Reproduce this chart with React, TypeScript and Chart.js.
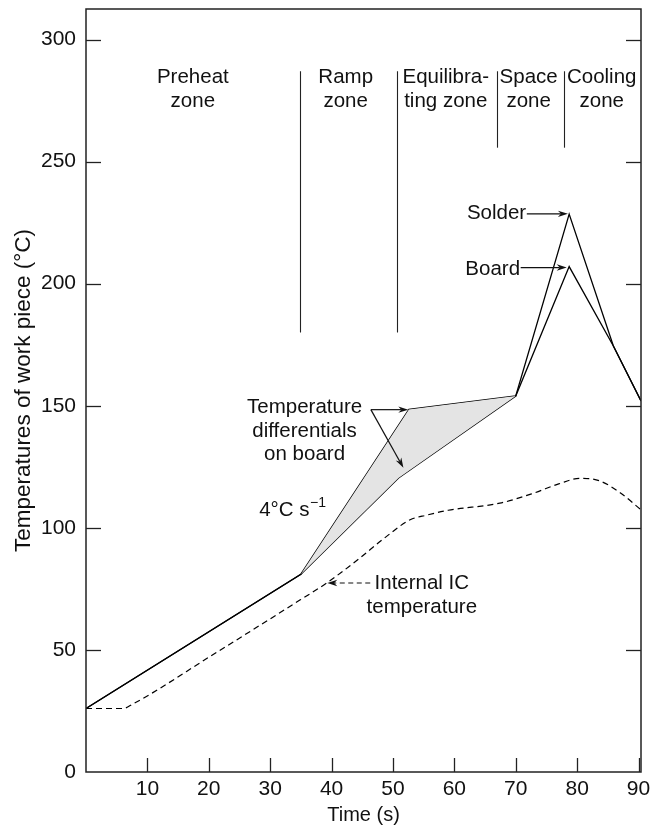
import React, { useEffect, useRef } from 'react';
import { Chart, registerables } from 'chart.js';

Chart.register(...registerables);

// ---- data ----
const SOLDER_X = [0, 35, 52.6, 70, 78.7, 85.9, 90.4];
const SOLDER_Y = [26, 81, 148.5, 154, 228.5, 174.5, 152];
const BOARD_X = [0, 35, 50.9, 70, 78.7, 85.9, 90.4];
const BOARD_Y = [26, 81, 120.4, 154, 207, 174.5, 152];
const IC_X = [0, 6, 7.6, 20.2, 34.9, 39.2, 44.4, 48.5, 52.8, 55.5, 59, 67.4, 72.9, 77, 80.5, 83.7, 87, 90.4];
const IC_Y = [26, 26, 27.8, 47.3, 70.5, 77.4, 87.2, 95.6, 103.3, 105.2, 107.2, 110.1, 114.2, 118, 120.3, 119.2, 114.4, 107.4];
const DIFF_RANGE = [35, 70];

const X_TICKS = [10, 20, 30, 40, 50, 60, 70, 80, 90];
const Y_TICKS = [0, 50, 100, 150, 200, 250, 300];

const ZONE_LINE_X = [34.9, 50.7, 66.9, 77.9];
const ZONE_LINE_TOP = [287, 287, 287, 287];
const ZONE_LINE_BOTTOM = [180, 180, 255.7, 255.7];
const ZONE_LABELS = [
  ['Preheat', 'zone'],
  ['Ramp', 'zone'],
  ['Equilibra-', 'ting zone'],
  ['Space', 'zone'],
  ['Cooling', 'zone'],
];
const ZONE_LABEL_X = [17.4, 42.3, 58.6, 72.1, 84];
const ZONE_LABEL_Y = [284.5, 274.8];

const FONT = '"Liberation Sans", Arial, Helvetica, sans-serif';
const INK = '#111';

const toPts = (xs: number[], ys: number[]) => xs.map((x, i) => ({ x, y: ys[i] }));
const inRange = (p: { x: number }) => p.x >= DIFF_RANGE[0] && p.x <= DIFF_RANGE[1];

function drawArrow(ctx: CanvasRenderingContext2D, x1: number, y1: number, x2: number, y2: number, dashed = false) {
  const ang = Math.atan2(y2 - y1, x2 - x1);
  const headLen = 10;
  const hw = 3.2;
  const bx = x2 - Math.cos(ang) * headLen * 0.7;
  const by = y2 - Math.sin(ang) * headLen * 0.7;
  ctx.save();
  ctx.strokeStyle = INK;
  ctx.fillStyle = INK;
  ctx.lineWidth = 1.2;
  ctx.setLineDash(dashed ? [5, 3.5] : []);
  ctx.beginPath();
  ctx.moveTo(x1, y1);
  ctx.lineTo(bx, by);
  ctx.stroke();
  ctx.setLineDash([]);
  const tx = x2 - Math.cos(ang) * headLen;
  const ty = y2 - Math.sin(ang) * headLen;
  const nx = -Math.sin(ang) * hw;
  const ny = Math.cos(ang) * hw;
  ctx.beginPath();
  ctx.moveTo(x2, y2);
  ctx.lineTo(tx + nx, ty + ny);
  ctx.lineTo(bx, by);
  ctx.lineTo(tx - nx, ty - ny);
  ctx.closePath();
  ctx.fill();
  ctx.restore();
}

const overlay = {
  id: 'overlay',
  afterDatasetsDraw(chart: any) {
    const { ctx, chartArea: a, scales } = chart;
    const px = (v: number) => scales.x.getPixelForValue(v);
    const py = (v: number) => scales.y.getPixelForValue(v);
    const line = (x1: number, y1: number, x2: number, y2: number) => {
      ctx.beginPath();
      ctx.moveTo(x1, y1);
      ctx.lineTo(x2, y2);
      ctx.stroke();
    };
    ctx.save();
    // frame
    ctx.strokeStyle = '#222';
    ctx.lineWidth = 1.5;
    ctx.strokeRect(a.left, a.top, a.right - a.left, a.bottom - a.top);
    // inward ticks
    ctx.lineWidth = 1.3;
    Y_TICKS.forEach((v) => {
      if (v === 0) return;
      const yy = Math.round(py(v)) + 0.5;
      line(a.left, yy, a.left + 15, yy);
      line(a.right - 15, yy, a.right, yy);
    });
    X_TICKS.forEach((v) => {
      const xx = Math.round(px(v)) + 0.5;
      line(xx, a.bottom, xx, a.bottom - 14);
    });
    // zone boundaries
    ctx.strokeStyle = '#222';
    ctx.lineWidth = 1.1;
    ZONE_LINE_X.forEach((v, i) => {
      const xx = Math.round(px(v)) + 0.5;
      line(xx, py(ZONE_LINE_TOP[i]), xx, py(ZONE_LINE_BOTTOM[i]));
    });
    // text
    ctx.fillStyle = INK;
    ctx.font = `20.5px ${FONT}`;
    ctx.textBaseline = 'middle';
    ctx.textAlign = 'center';
    ZONE_LABELS.forEach((lines, i) => {
      lines.forEach((t, j) => ctx.fillText(t, px(ZONE_LABEL_X[i]), py(ZONE_LABEL_Y[j])));
    });
    // Solder / Board
    ctx.textAlign = 'right';
    ctx.fillText('Solder', px(71.7), py(229));
    ctx.fillText('Board', px(70.7), py(206));
    drawArrow(ctx, px(71.8), py(228.6), px(78.5), py(228.6));
    drawArrow(ctx, px(70.8), py(206.6), px(78.3), py(206.6));
    // Temperature differentials
    ctx.textAlign = 'center';
    ctx.fillText('Temperature', px(35.6), py(149.3));
    ctx.fillText('differentials', px(35.6), py(139.5));
    ctx.fillText('on board', px(35.6), py(130));
    drawArrow(ctx, px(46.4), py(148.4), px(52.5), py(148.4));
    drawArrow(ctx, px(46.4), py(148.4), px(51.7), py(124.6));
    // 4°C s^-1
    ctx.textAlign = 'left';
    const sx = px(28.2);
    const sy = py(107);
    ctx.fillText('4°C s', sx, sy);
    const w = ctx.measureText('4°C s').width;
    ctx.font = `14px ${FONT}`;
    ctx.fillText('\u22121', sx + w + 0.5, sy - 8);
    ctx.font = `20.5px ${FONT}`;
    // Internal IC temperature
    ctx.textAlign = 'center';
    ctx.fillText('Internal IC', px(54.7), py(77.4));
    ctx.fillText('temperature', px(54.7), py(67.6));
    drawArrow(ctx, px(46.3), py(77.4), px(39.3), py(77.4), true);
    ctx.restore();
  },
};

export default function App() {
  const ref = useRef<HTMLCanvasElement | null>(null);
  useEffect(() => {
    if (!ref.current) return;
    const solder = toPts(SOLDER_X, SOLDER_Y);
    const board = toPts(BOARD_X, BOARD_Y);
    const ic = toPts(IC_X, IC_Y);
    const lineBase = { pointRadius: 0, borderColor: '#000', borderWidth: 1.3, fill: false, tension: 0 };
    const chart = new Chart(ref.current, {
      type: 'line',
      data: {
        datasets: [
          { ...lineBase, data: solder.filter(inRange), borderWidth: 0 },
          { ...lineBase, data: board.filter(inRange), borderWidth: 0, fill: '-1', backgroundColor: '#e4e4e4' },
          { ...lineBase, data: solder },
          { ...lineBase, data: board },
          { ...lineBase, data: ic, borderDash: [6, 4], borderWidth: 1.2, cubicInterpolationMode: 'monotone' },
        ] as any,
      },
      options: {
        responsive: false,
        animation: false,
        layout: { padding: { top: 9, right: 14, left: 0, bottom: 0 } },
        plugins: { legend: { display: false }, tooltip: { enabled: false } },
        scales: {
          x: {
            type: 'linear',
            min: 0,
            max: 90.4,
            afterBuildTicks: (s: any) => {
              s.ticks = X_TICKS.map((v) => ({ value: v }));
            },
            afterFit: (s: any) => {
              s.height = 55;
              s.paddingLeft = 0;
              s.paddingRight = 0;
            },
            grid: { display: false, drawTicks: false },
            border: { display: false },
            ticks: { padding: 5, color: INK, font: { size: 21, family: FONT }, maxRotation: 0, autoSkip: false },
            title: { display: true, text: 'Time (s)', color: INK, font: { size: 20, family: FONT }, padding: { top: 0, bottom: 0 } },
          },
          y: {
            type: 'linear',
            min: 0,
            max: 312.5,
            afterBuildTicks: (s: any) => {
              s.ticks = Y_TICKS.map((v) => ({ value: v }));
            },
            afterFit: (s: any) => {
              s.width = 86;
              s.paddingTop = 0;
              s.paddingBottom = 0;
            },
            grid: { display: false, drawTicks: false },
            border: { display: false },
            ticks: { padding: 10, color: INK, font: { size: 21, family: FONT }, autoSkip: false },
            title: { display: true, text: 'Temperatures of work piece (°C)', color: INK, font: { size: 22.5, family: FONT }, padding: { top: 10, bottom: 0 } },
          },
        },
      } as any,
      plugins: [overlay],
    });
    return () => chart.destroy();
  }, []);
  return (
    <div style={{ position: 'fixed', left: 0, top: 0, width: 655, height: 827, background: '#fff' }}>
      <canvas ref={ref} width={655} height={827} style={{ display: 'block' }} />
    </div>
  );
}
